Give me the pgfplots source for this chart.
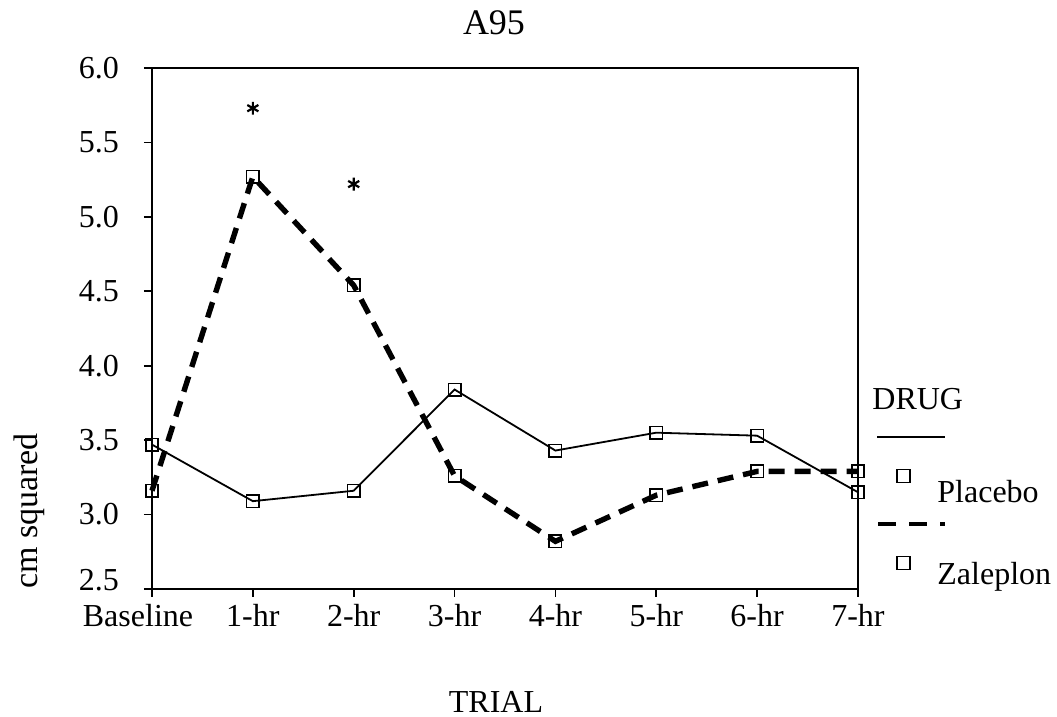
\documentclass[border=0pt]{standalone}
\usepackage{fontspec}
\setmainfont{Liberation Serif}
\usepackage{pgfplots}
\pgfplotsset{compat=1.18}
\begin{document}
\begin{tikzpicture}[font=\fontsize{16}{19}\selectfont]
\useasboundingbox (-76pt,-64pt) rectangle (452.5pt,294.5pt);
\begin{axis}[
  scale only axis,
  width=353pt, height=260.5pt,
  xmin=0, xmax=7, ymin=2.5, ymax=6.0,
  xtick={0,...,7},
  xticklabels={\hspace*{-14pt}Baseline,1-hr,2-hr,3-hr,4-hr,5-hr,6-hr,7-hr},
  ytick={2.5,3.0,3.5,4.0,4.5,5.0,5.5,6.0},
  yticklabels={\raisebox{9pt}{2.5},3.0,3.5,4.0,4.5,5.0,5.5,6.0},
  yticklabel style={xshift=-9pt},
  tick align=outside, tick pos=left,
  major tick length=4pt,
  tick style={black, line width=0.8pt},
  axis line style={line width=0.9pt},
  ticklabel style={font=\fontsize{16}{19}\selectfont},
  clip=false,
]
\addplot[black, line width=0.9pt, mark=square, mark size=3.1pt, mark options={solid, fill=white, line width=0.8pt}]
  coordinates {(0,3.47) (1,3.09) (2,3.16) (3,3.84) (4,3.43) (5,3.55) (6,3.53) (7,3.15)};
\addplot[black, line width=2.7pt, dash pattern=on 8pt off 5pt, mark=square, mark size=3.1pt, mark options={solid, fill=white, line width=0.8pt}]
  coordinates {(0,3.16) (1,5.27) (2,4.54) (3,3.26) (4,2.82) (5,3.13) (6,3.29) (7,3.29)};
\addplot[only marks, black, mark=asterisk, mark size=3.2pt, mark options={line width=1.1pt}]
  coordinates {(1,5.73) (2,5.22)};
\end{axis}
\node[anchor=base, inner sep=0pt, font=\fontsize{18}{21}\selectfont] at (171pt,277pt) {A95};
\node[rotate=90, font=\fontsize{17}{20}\selectfont] at (-61.5pt,39pt) {cm squared};
\node[anchor=base, inner sep=0pt] at (172pt,-62pt) {TRIAL};
\node[anchor=base west, inner sep=0pt] at (360pt,89.5pt) {DRUG};
\draw[line width=0.6pt] (362.5pt,76pt) -- (396.5pt,76pt);
\draw[line width=0.7pt, fill=white] (372.5pt,53.25pt) rectangle (379pt,59.75pt);
\node[anchor=base west, inner sep=0pt] at (392.5pt,43pt) {Placebo};
\draw[line width=2pt, dash pattern=on 9pt off 6.5pt] (363pt,32.5pt) -- (396.5pt,32.5pt);
\draw[line width=0.7pt, fill=white] (372.5pt,9.75pt) rectangle (379pt,16.25pt);
\node[anchor=base west, inner sep=0pt] at (392.5pt,2pt) {Zaleplon};
\end{tikzpicture}
\end{document}
